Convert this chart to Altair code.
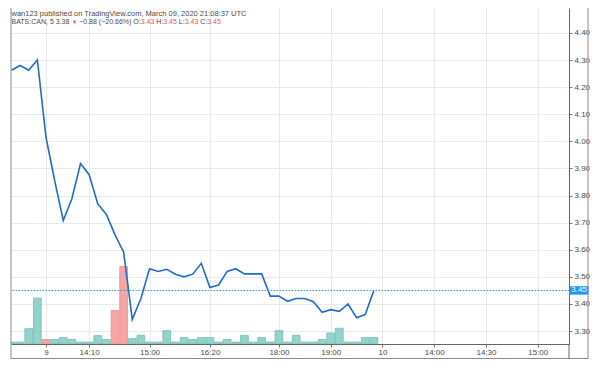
import altair as alt
import pandas as pd

# ---- data (BATS:CAN, 5-minute bars) ----
price = [4.262, 4.28, 4.262, 4.30, 4.015, 3.856, 3.708, 3.788, 3.918, 3.877,
         3.769, 3.73, 3.655, 3.591, 3.343, 3.42, 3.53, 3.52, 3.528, 3.51,
         3.50, 3.51, 3.55, 3.461, 3.47, 3.52, 3.53, 3.511, 3.511, 3.511,
         3.429, 3.429, 3.41, 3.42, 3.42, 3.408, 3.369, 3.379, 3.373, 3.40,
         3.349, 3.361, 3.45]
volume = [2000, 2000, 16000, 48000, 4700, 4700, 6700, 4700, 2000, 2000,
          8700, 4700, 35000, 81000, 5700, 9000, 2000, 2000, 14000, 2000,
          6700, 4700, 6700, 6700, 2000, 4700, 2000, 9000, 2000, 6700,
          2000, 14000, 2000, 9000, 2000, 2000, 4700, 11500, 16500, 2000,
          2000, 6700, 6700]
down_bars = [4, 12, 13]
time_tick_index = [4, 9, 16, 23, 31, 37, 43, 49, 55, 61]
time_tick_label = ["9", "14:10", "15:00", "16:20", "18:00", "19:00", "10",
                   "14:00", "14:30", "15:00"]
price_ticks = [3.30, 3.40, 3.50, 3.60, 3.70, 3.80, 3.90, 4.00, 4.10, 4.20, 4.30, 4.40]
last_price = 3.45
header_line1 = "wan123 published on TradingView.com, March 09, 2020 21:08:37 UTC"
header_line2 = ["BATS:CAN, 5 3.38 ", "\u25bc", " \u22120.88 (\u221220.66%) O:", "3.43",
                " H:", "3.45", " L:", "3.43", " C:", "3.45"]
header_line2_red = [False, True, False, True, False, True, False, True, False, True]

# ---- layout / style ----
W, H = 558, 336
FONT = "Liberation Sans"
TEXT_C = "#4a4a4a"
RED_T = "#ef5350"
LINE_C = "#1f6ccb"
GRID_C = "#e6e9ee"
FRAME_C = "#8c8c8c"
X_DOMAIN = [-0.056, 64.62]
P_DOMAIN = [3.2523, 4.4919]
V_DOMAIN = [0, 351000]
H2_SIZE = 7.0
TRI_SIZE = 5.5

# approximate Liberation Sans (Arial) advance widths, per 1000 em
_adv = {' ': 278, '.': 278, ',': 278, ':': 278, '(': 333, ')': 333, '%': 889,
        '\u2212': 584, 'A': 667, 'B': 667, 'C': 722, 'H': 722, 'L': 556,
        'N': 722, 'O': 778, 'S': 667, 'T': 611, '\u25bc': 990}


def text_width(s, size):
    return sum(_adv.get(ch, 556) for ch in s) * size / 1000.0


# SVG collapses leading/trailing blanks, so place each trimmed segment
# after the measured width of everything before it.
header_x = []
cx = 0.5
for seg in header_line2:
    size = TRI_SIZE if seg == "\u25bc" else H2_SIZE
    lead = len(seg) - len(seg.lstrip(" "))
    header_x.append(cx + text_width(" " * lead, size))
    cx += text_width(seg, size)

n = len(price)
df = pd.DataFrame({
    "i": list(range(n)),
    "p": price,
    "vol": volume,
    "dir": ["down" if k in down_bars else "up" for k in range(n)],
})

label_expr = ""
for idx, lab in zip(time_tick_index, time_tick_label):
    label_expr += f"datum.value == {idx} ? '{lab}' : "
label_expr += "''"

x_axis = alt.Axis(values=time_tick_index, labelExpr=label_expr, grid=True,
                  gridColor=GRID_C, gridWidth=1, tickSize=3, tickColor="#777777",
                  domainColor="#666666", labelFontSize=8, labelColor=TEXT_C,
                  labelFont=FONT, labelPadding=1, title=None, labelFlush=False)
x_scale = alt.Scale(domain=X_DOMAIN, nice=False, zero=False)
p_scale = alt.Scale(domain=P_DOMAIN, nice=False, zero=False)

bars = alt.Chart(df).transform_calculate(
    x0="datum.i - 0.45", x1="datum.i + 0.45", base="0"
).mark_rect(clip=True, strokeWidth=0.8).encode(
    x=alt.X("x0:Q", scale=x_scale, axis=x_axis),
    x2="x1:Q",
    y=alt.Y("vol:Q", scale=alt.Scale(domain=V_DOMAIN, nice=False), axis=None),
    y2="base:Q",
    fill=alt.Fill("dir:N", scale=alt.Scale(domain=["up", "down"], range=["#93d3cb", "#f6a7a5"]), legend=None),
    stroke=alt.Stroke("dir:N", scale=alt.Scale(domain=["up", "down"], range=["#6fc0b6", "#ee8d8b"]), legend=None),
)

line = alt.Chart(df).mark_line(color=LINE_C, strokeWidth=1.6, clip=True).encode(
    x=alt.X("i:Q", scale=x_scale, axis=x_axis),
    y=alt.Y("p:Q", scale=p_scale,
            axis=alt.Axis(orient="right", values=price_ticks, format=".2f", grid=True,
                          gridColor=GRID_C, tickSize=3, tickColor="#777777",
                          domainColor="#666666", labelFontSize=8, labelColor=TEXT_C,
                          labelFont=FONT, labelPadding=2, title=None)),
)

last_df = pd.DataFrame({"p": [last_price]})
dotted = alt.Chart(last_df).mark_rule(color="#2196f3", strokeWidth=1, strokeDash=[1.5, 1.5]).encode(
    y=alt.Y("p:Q", scale=p_scale, axis=None)
)
box = alt.Chart(last_df).transform_calculate(
    hi="datum.p + 0.0155", lo="datum.p - 0.0155"
).mark_rect(color="#2196f3").encode(
    y=alt.Y("hi:Q", scale=p_scale, axis=None), y2="lo:Q",
    x=alt.value(W), x2=alt.value(W + 19.5),
)
box_text = alt.Chart(last_df).mark_text(color="white", fontSize=8, font=FONT,
                                         align="center", baseline="middle").encode(
    y=alt.Y("p:Q", scale=p_scale, axis=None), x=alt.value(W + 10),
    text=alt.Text("p:Q", format=".2f"),
)

one = alt.Data(values=[{}])
frame = [
    alt.Chart(one).mark_rule(color=FRAME_C, strokeWidth=1).encode(
        x=alt.value(0), y=alt.value(0), y2=alt.value(351)),
    alt.Chart(one).mark_rule(color=FRAME_C, strokeWidth=1).encode(
        x=alt.value(0), x2=alt.value(577), y=alt.value(350.5)),
    alt.Chart(one).mark_rule(color=FRAME_C, strokeWidth=1).encode(
        x=alt.value(577), y=alt.value(0), y2=alt.value(351)),
    alt.Chart(one).mark_rule(color="#666666", strokeWidth=1).encode(
        x=alt.value(W), y=alt.value(H), y2=alt.value(351)),
]

header = [alt.Chart(one).mark_text(align="left", baseline="middle", fontSize=7.5,
                                    font=FONT, color=TEXT_C).encode(
    x=alt.value(0.5), y=alt.value(6.4), text=alt.value(header_line1))]
for seg, red, hx in zip(header_line2, header_line2_red, header_x):
    header.append(alt.Chart(one).mark_text(
        align="left", baseline="middle",
        fontSize=TRI_SIZE if seg == "\u25bc" else H2_SIZE,
        font=FONT, color=RED_T if red else TEXT_C).encode(
        x=alt.value(hx), y=alt.value(14.3), text=alt.value(seg.strip(" "))))

chart = alt.layer(bars, line, dotted, box, box_text, *frame, *header).resolve_scale(
    y="independent"
).properties(
    width=W, height=H,
    autosize=alt.AutoSizeParams(type="none"),
    padding={"left": 3, "top": 0, "right": 23, "bottom": 16},
    background="white",
).configure_view(stroke=None)

chart.save("out.html", embed_options={"renderer": "svg", "actions": False})
